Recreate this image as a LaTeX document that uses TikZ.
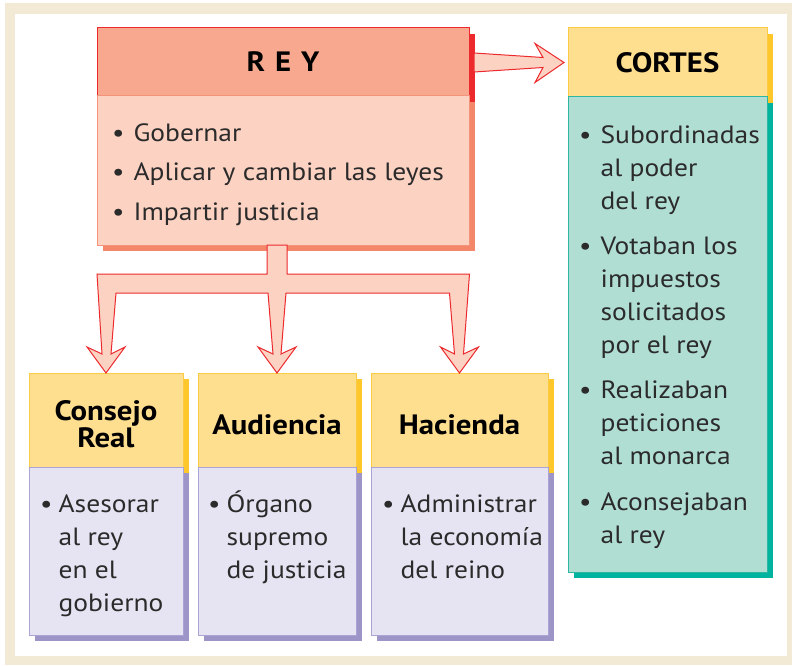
\documentclass[tikz,border=0pt]{standalone}
\usepackage{fontspec}
\setmainfont{PT Sans}[FakeStretch=1.1]
\usetikzlibrary{calc,shadows}

\definecolor{marco}{HTML}{F2EAD4}
\definecolor{texto}{HTML}{2B2B2B}
\definecolor{rojo}{HTML}{EC2A2E}
\definecolor{reyfondo}{HTML}{F8A88E}
\definecolor{reyclaro}{HTML}{FCD2C2}
\definecolor{reyborde}{HTML}{F3937A}
\definecolor{reysombra}{HTML}{F4876A}
\definecolor{amarillo}{HTML}{FEDF8F}
\definecolor{amarilloborde}{HTML}{FBCB45}
\definecolor{amarillosombra}{HTML}{FEC82C}
\definecolor{verde}{HTML}{B1DED3}
\definecolor{verdeborde}{HTML}{2DB7A2}
\definecolor{verdesombra}{HTML}{00B39F}
\definecolor{lila}{HTML}{E6E4F2}
\definecolor{lilaborde}{HTML}{AAA3D3}
\definecolor{lilasombra}{HTML}{9D94C8}

\newcommand{\fuentetitulo}{\fontsize{28}{27}\selectfont\bfseries}
\newcommand{\fuentelista}{\fontsize{25}{33}\selectfont}

\tikzset{
  sombra/.style={drop shadow={shadow xshift=6pt,shadow yshift=-6pt,opacity=1,fill=#1}},
  caja/.style={draw, line width=1pt, anchor=north west, inner sep=0pt, outer sep=0pt},
  cab/.style={caja, fill=amarillo, draw=amarilloborde, sombra=amarillosombra,
    font=\fuentetitulo, text=black, align=center},
  titulo/.style={inner sep=0pt, font=\fuentetitulo, text=black, align=center},
  cuerpo/.style={caja, fill=lila, draw=lilaborde, sombra=lilasombra},
  lista/.style={anchor=base west, inner sep=0pt, text=texto, font=\fuentelista},
  flecha/.style={draw=rojo, fill=reyclaro, line width=1pt, line join=miter},
}

\begin{document}
\begin{tikzpicture}[x=1pt,y=-1pt]
  \useasboundingbox (0,0) rectangle (792,666);
  \fill[marco] (5,3) rectangle (792,665);
  \fill[white] (15,14) rectangle (787,656);

  % rey
  \node[caja, fill=reyfondo, draw=rojo, sombra=rojo, font=\fuentetitulo, text=black,
        minimum width=372pt, minimum height=68pt] (rey) at (97,28) {R\hspace{10pt}E\hspace{10pt}Y};
  \node[caja, fill=reyclaro, draw=reyborde, sombra=reysombra,
        minimum width=372pt, minimum height=149pt] (reycuerpo) at (rey.south west) {};
  \node[lista] (reylista) at ($(reycuerpo.north west)+(15,46)$) {%
    \begin{tabular}[t]{@{}l@{\hspace{9pt}}l@{}}
      \textbullet & Gobernar\\[6pt]
      \textbullet & Aplicar y cambiar las leyes\\[6pt]
      \textbullet & Impartir justicia
    \end{tabular}};

  % cortes
  \node[cab, minimum width=199pt, minimum height=69pt] (cortes) at (568,28) {CORTES};
  \node[caja, fill=verde, draw=verdeborde, sombra=verdesombra,
        minimum width=199pt, minimum height=475pt] (cortescuerpo) at (cortes.south west) {};
  \node[lista] (corteslista) at ($(cortescuerpo.north west)+(11,46)$) {%
    \begin{tabular}[t]{@{}l@{\hspace{9pt}}l@{}}
      \textbullet & Subordinadas\\
                  & al poder\\
                  & del rey\\[12pt]
      \textbullet & Votaban los\\
                  & impuestos\\
                  & solicitados\\
                  & por el rey\\[12pt]
      \textbullet & Realizaban\\
                  & peticiones\\
                  & al monarca\\[13pt]
      \textbullet & Aconsejaban\\
                  & al rey
    \end{tabular}};

  % consejos
  \node[cab, minimum width=154pt, minimum height=94pt] (consejo) at (29,373) {};
  \node[titulo] (consejotitulo) at ($(consejo.center)+(0,4)$) {Consejo\\Real};
  \node[cuerpo, minimum width=154pt, minimum height=168pt] (consejocuerpo) at (consejo.south west) {};
  \node[lista] (consejolista) at ($(consejocuerpo.north west)+(11,45)$) {%
    \begin{tabular}[t]{@{}l@{\hspace{6pt}}l@{}}
      \textbullet & Asesorar\\ & al rey\\ & en el\\ & gobierno
    \end{tabular}};

  \node[cab, minimum width=158pt, minimum height=94pt] (audiencia) at (198,373) {};
  \node[titulo] (audienciatitulo) at ($(audiencia.center)+(0,5)$) {Audiencia};
  \node[cuerpo, minimum width=158pt, minimum height=168pt] (audienciacuerpo) at (audiencia.south west) {};
  \node[lista] (audiencialista) at ($(audienciacuerpo.north west)+(10,45)$) {%
    \begin{tabular}[t]{@{}l@{\hspace{6pt}}l@{}}
      \textbullet & Órgano\\ & supremo\\ & de justicia
    \end{tabular}};

  \node[cab, minimum width=177pt, minimum height=94pt] (hacienda) at (371,373) {};
  \node[titulo] (haciendatitulo) at ($(hacienda.center)+(0,5)$) {Hacienda};
  \node[cuerpo, minimum width=177pt, minimum height=168pt] (haciendacuerpo) at (hacienda.south west) {};
  \node[lista] (haciendalista) at ($(haciendacuerpo.north west)+(11,45)$) {%
    \begin{tabular}[t]{@{}l@{\hspace{6pt}}l@{}}
      \textbullet & Administrar\\ & la economía\\ & del reino
    \end{tabular}};

  % flechas
  \coordinate (punta) at ($(cortes.west)+(-4,0)$);
  \draw[flecha] ($(rey.east)+(5,-9)$) -- ($(punta)+(-21,-5)$) -- ($(punta)+(-29,-19)$)
    -- (punta) -- ($(punta)+(-29,20)$) -- ($(punta)+(-21,5)$) -- ($(rey.east)+(5,10)$) -- cycle;

  \coordinate (talloi) at ($(audiencia.north)+(-10,0)$);
  \coordinate (tallod) at ($(audiencia.north)+(10,0)$);
  \draw[flecha] (talloi |- reycuerpo.south) -- ($(audiencia.north)+(-10,-99)$)
    -- ($(consejo.north)+(-9,-99)$) -- ($(consejo.north)+(-4,-19)$) -- ($(consejo.north)+(-19,-26)$)
    -- (consejo.north) -- ($(consejo.north)+(19,-26)$) -- ($(consejo.north)+(5,-19)$)
    -- ($(consejo.north)+(10,-80)$) -- ($(audiencia.north)+(-9,-80)$)
    -- ($(audiencia.north)+(-4,-19)$) -- ($(audiencia.north)+(-19,-26)$) -- (audiencia.north)
    -- ($(audiencia.north)+(19,-26)$) -- ($(audiencia.north)+(4,-19)$) -- ($(audiencia.north)+(9,-80)$)
    -- ($(hacienda.north)+(-10,-80)$) -- ($(hacienda.north)+(-5,-19)$) -- ($(hacienda.north)+(-19,-26)$)
    -- (hacienda.north) -- ($(hacienda.north)+(19,-26)$) -- ($(hacienda.north)+(4,-19)$)
    -- ($(hacienda.north)+(10,-99)$) -- ($(audiencia.north)+(10,-99)$)
    -- (tallod |- reycuerpo.south) -- cycle;
\end{tikzpicture}
\end{document}
